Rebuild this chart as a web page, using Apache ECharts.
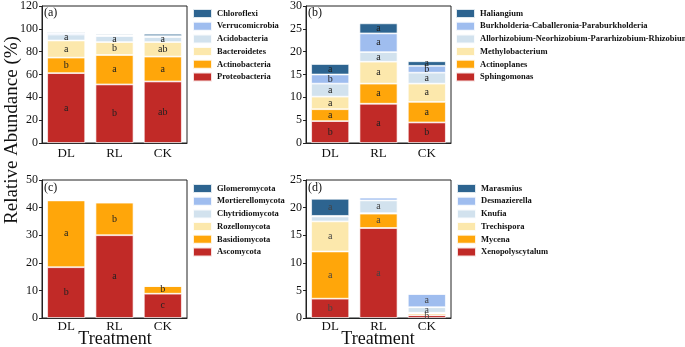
<!DOCTYPE html>
<html>
<head>
<meta charset="utf-8">
<script src="https://cdn.jsdelivr.net/npm/echarts@6/dist/echarts.min.js"></script>
<style>
html, body { margin: 0; padding: 0; background: #fff; }
#chart { width: 685px; height: 347px; }
</style>
</head>
<body>
<div id="chart"></div>
<script>
//处理组
var categories = ['DL', 'RL', 'CK'];

//(a) 细菌门 - 从下往上堆叠
var aNames = ['Proteobacteria', 'Actinobacteria', 'Bacteroidetes', 'Acidobacteria', 'Verrucomicrobia', 'Chloroflexi'];
var aValues = [
	[61.2, 51.3, 53.9],
	[13.6, 25.8, 21.8],
	[15.0, 11.3, 12.7],
	[5.2, 5.3, 4.4],
	[1.1, 0.6, 0.9],
	[0.9, 0.8, 2.0]
];
var aLetters = [
	['a', 'b', 'ab'],
	['b', 'a', 'a'],
	['a', 'b', 'ab'],
	['a', 'a', 'a'],
	['', '', ''],
	['', '', '']
];

//(b) 细菌属
var bNames = ['Sphingomonas', 'Actinoplanes', 'Methylobacterium', 'Allorhizobium-Neorhizobium-Pararhizobium-Rhizobium', 'Burkholderia-Caballeronia-Paraburkholderia', 'Haliangium'];
var bValues = [
	[4.8, 8.6, 4.5],
	[2.6, 4.4, 4.5],
	[2.75, 4.8, 4.0],
	[2.85, 2.1, 2.4],
	[2.0, 4.1, 1.5],
	[2.3, 2.2, 1.0]
];
var bLetters = [
	['b', 'a', 'b'],
	['a', 'a', 'a'],
	['a', 'a', 'a'],
	['a', 'a', 'a'],
	['b', 'a', 'b'],
	['a', 'a', 'a']
];

//(c) 真菌门
var cNames = ['Ascomycota', 'Basidiomycota', 'Rozellomycota', 'Chytridiomycota', 'Mortierellomycota', 'Glomeromycota'];
var cValues = [
	[18.4, 30.0, 8.8],
	[24.2, 11.8, 2.8],
	[0.05, 0.05, 0.05],
	[0.05, 0.05, 0.05],
	[0.05, 0.05, 0.05],
	[0.05, 0.05, 0.05]
];
var cLetters = [
	['b', 'a', 'c'],
	['a', 'b', 'b'],
	['', '', ''],
	['', '', ''],
	['', '', ''],
	['', '', '']
];

//(d) 真菌属
var dNames = ['Xenopolyscytalum', 'Mycena', 'Trechispora', 'Knufia', 'Desmazierella', 'Marasmius'];
var dValues = [
	[3.5, 16.3, 0.5],
	[8.55, 2.6, 0.3],
	[5.45, 0.1, 0.15],
	[0.9, 2.3, 1.0],
	[0.1, 0.5, 2.4],
	[3.1, 0.05, 0.05]
];
var dLetters = [
	['b', 'a', 'b'],
	['a', 'a', ''],
	['a', '', ''],
	['', 'a', 'a'],
	['', '', 'a'],
	['a', '', '']
];

var yTicks = [
	{ max: 120, interval: 20 },
	{ max: 30, interval: 5 },
	{ max: 50, interval: 10 },
	{ max: 25, interval: 5 }
];

var colors = ['#C12A27', '#FFA60A', '#FCE8AC', '#D2E2EE', '#9FBDEF', '#2D6490'];
var serif = "'Liberation Serif', 'Times New Roman', serif";

var grids = [
	{ left: 42, top: 5, width: 145, height: 138 },
	{ left: 306, top: 5, width: 145, height: 138 },
	{ left: 42, top: 180, width: 145, height: 138 },
	{ left: 306, top: 180, width: 145, height: 138 }
];

var buildSeries = function(names, values, letters, idx, labelColor) {
	var list = [];
	for(var i = 0; i < names.length; i++) {
		var data = [];
		for(var j = 0; j < categories.length; j++) {
			var s = letters[i][j];
			data.push({
				value: values[i][j],
				label: { show: s !== '', formatter: s }
			});
		}
		list.push({
			name: names[i],
			type: 'bar',
			stack: 'panel' + idx,
			xAxisIndex: idx,
			yAxisIndex: idx,
			barWidth: 38,
			itemStyle: {
				color: colors[i],
				borderColor: 'rgba(255,255,255,0.85)',
				borderWidth: 0.8
			},
			label: {
				position: 'inside',
				color: labelColor,
				fontFamily: serif,
				fontSize: 10
			},
			data: data
		});
	}
	return list;
};

var xAxes = [], yAxes = [];
for(var k = 0; k < 4; k++) {
	xAxes.push({
		type: 'category',
		gridIndex: k,
		data: categories,
		axisLine: { lineStyle: { color: '#222', width: 1 } },
		axisTick: { inside: true, length: 3, lineStyle: { color: '#222' } },
		axisLabel: { color: '#111', fontFamily: serif, fontSize: 13, margin: k < 2 ? 4 : 2 }
	});
	yAxes.push({
		type: 'value',
		gridIndex: k,
		min: 0,
		max: yTicks[k].max,
		interval: yTicks[k].interval,
		splitLine: { show: false },
		axisLine: { show: true, lineStyle: { color: '#222', width: 1 } },
		axisTick: { show: true, length: 3, lineStyle: { color: '#222' } },
		axisLabel: { color: '#111', fontFamily: serif, fontSize: 12, margin: 4 }
	});
}

var makeLegend = function(names, left, top) {
	return {
		data: names.slice().reverse(),
		orient: 'vertical',
		left: left,
		top: top,
		padding: 0,
		icon: 'rect',
		itemWidth: 19,
		itemHeight: 9,
		itemGap: 1.7,
		selectedMode: false,
		textStyle: { fontFamily: serif, fontWeight: 'bold', fontSize: 8.5, color: '#111' }
	};
};

var option = {
	animation: false,
	grid: grids.map(function(g) {
		return Object.assign({ show: true, borderColor: '#222', borderWidth: 1, backgroundColor: 'transparent' }, g);
	}),
	xAxis: xAxes,
	yAxis: yAxes,
	legend: [
		makeLegend(aNames, 192, 8),
		makeLegend(bNames, 455, 8),
		makeLegend(cNames, 192, 183),
		makeLegend(dNames, 456, 183)
	],
	series: [].concat(
		buildSeries(aNames, aValues, aLetters, 0, '#222'),
		buildSeries(bNames, bValues, bLetters, 1, '#222'),
		buildSeries(cNames, cValues, cLetters, 2, '#222'),
		buildSeries(dNames, dValues, dLetters, 3, '#444')
	),
	graphic: [
		{ type: 'text', left: 44, top: 7, style: { text: '(a)', font: '12px ' + serif, fill: '#111' } },
		{ type: 'text', left: 308, top: 7, style: { text: '(b)', font: '12px ' + serif, fill: '#111' } },
		{ type: 'text', left: 44, top: 182, style: { text: '(c)', font: '12px ' + serif, fill: '#111' } },
		{ type: 'text', left: 308, top: 182, style: { text: '(d)', font: '12px ' + serif, fill: '#111' } },
		{
			type: 'text', x: 12, y: 130, rotation: Math.PI / 2,
			style: { text: 'Relative Abundance (%)', font: '19px ' + serif, fill: '#111', align: 'center', verticalAlign: 'middle' }
		},
		{ type: 'text', x: 115, y: 348, style: { text: 'Treatment', font: '18px ' + serif, fill: '#111', align: 'center', verticalAlign: 'bottom' } },
		{ type: 'text', x: 378, y: 348, style: { text: 'Treatment', font: '18px ' + serif, fill: '#111', align: 'center', verticalAlign: 'bottom' } }
	]
};

var chart = echarts.init(document.getElementById('chart'));
chart.setOption(option);
</script>
</body>
</html>
